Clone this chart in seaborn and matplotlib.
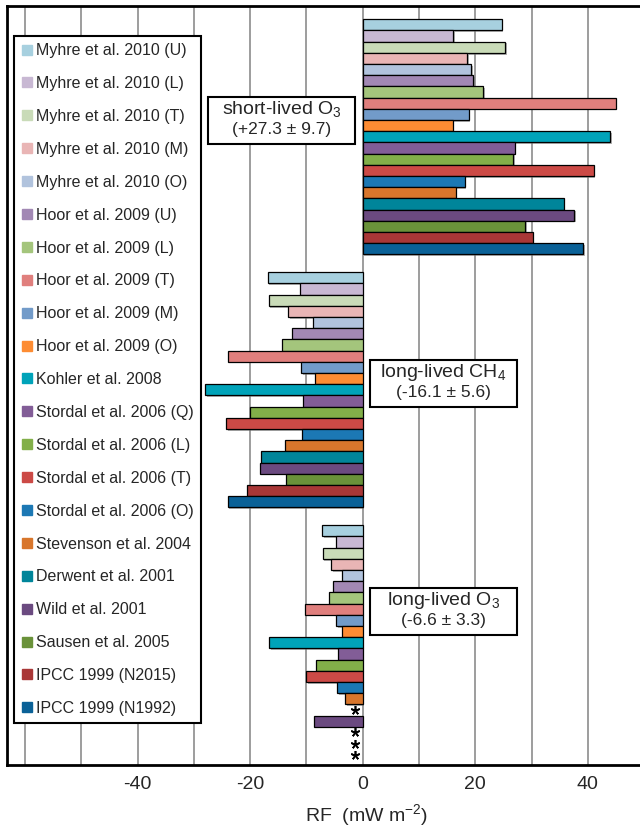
import numpy as np
import pandas as pd
import matplotlib
matplotlib.use('Agg')
import matplotlib.pyplot as plt
import matplotlib.patheffects as pe
from matplotlib.lines import Line2D
from matplotlib.patches import Rectangle
import seaborn as sns

# studies, top to bottom in each group
studies = [
    'Myhre et al. 2010 (U)', 'Myhre et al. 2010 (L)', 'Myhre et al. 2010 (T)',
    'Myhre et al. 2010 (M)', 'Myhre et al. 2010 (O)',
    'Hoor et al. 2009 (U)', 'Hoor et al. 2009 (L)', 'Hoor et al. 2009 (T)',
    'Hoor et al. 2009 (M)', 'Hoor et al. 2009 (O)',
    'Kohler et al. 2008',
    'Stordal et al. 2006 (Q)', 'Stordal et al. 2006 (L)', 'Stordal et al. 2006 (T)',
    'Stordal et al. 2006 (O)',
    'Stevenson et al. 2004', 'Derwent et al. 2001', 'Wild et al. 2001',
    'Sausen et al. 2005', 'IPCC 1999 (N2015)', 'IPCC 1999 (N1992)',
]
colors = [
    '#a7d0df', '#c8b8d3', '#c9dbb8', '#e9b5b5', '#b1c3dd',
    '#a288b4', '#a4c57c', '#e07f7d', '#729bc9', '#fd8c33',
    '#00a3b9',
    '#825d97', '#82af49', '#cc4a46', '#1c78b4',
    '#d8762c', '#00859a', '#6b4a80', '#6a923a', '#a93737', '#0a6197',
]
terms = ['short-lived O3', 'long-lived CH4', 'long-lived O3']

# RF in mW m-2 (None = not given, marked with a star)
short_o3 = [24.7, 16.1, 25.3, 18.5, 19.3, 19.6, 21.4, 44.9, 18.8, 16.0, 44.0,
            27.0, 26.7, 41.0, 18.1, 16.5, 35.7, 37.5, 28.8, 30.2, 39.2]
long_ch4 = [-16.9, -11.2, -16.7, -13.2, -8.8, -12.6, -14.4, -24.0, -10.9, -8.5, -28.0,
            -10.7, -20.1, -24.3, -10.8, -13.8, -18.1, -18.3, -13.7, -20.5, -24.0]
long_o3 = [-7.2, -4.7, -7.1, -5.6, -3.7, -5.3, -6.0, -10.2, -4.7, -3.6, -16.6,
           -4.4, -8.3, -10.0, -4.5, -3.1, None, -8.6, None, None, None]

box_titles = [r'short-lived O$_3$', r'long-lived CH$_4$', r'long-lived O$_3$']
box_values = ['(+27.3 ± 9.7)', '(-16.1 ± 5.6)', '(-6.6 ± 3.3)']

rows = []
for term, vals in zip(terms, [short_o3, long_ch4, long_o3]):
    for s, v in zip(studies, vals):
        rows.append({'term': term, 'study': s, 'rf': v})
df = pd.DataFrame(rows)
plot_df = df.dropna(subset=['rf'])

sns.set_style('white')
plt.rcParams['font.family'] = ['Liberation Sans', 'DejaVu Sans']
plt.rcParams['mathtext.fontset'] = 'custom'
plt.rcParams['mathtext.rm'] = 'Liberation Sans'
plt.rcParams['mathtext.it'] = 'Liberation Sans:italic'
plt.rcParams['axes.unicode_minus'] = False

W, H = 640, 830
fig = plt.figure(figsize=(W / 100, H / 100), dpi=100)
ax = fig.add_axes([7 / W, 1 - 765 / H, (W - 7) / W, 759 / H])

bar_width = 0.929
sns.barplot(data=plot_df, x='rf', y='term', hue='study', hue_order=studies,
            order=terms, palette=colors, saturation=1, width=bar_width,
            edgecolor='black', linewidth=0.9, orient='h', legend=False,
            errorbar=None, ax=ax, zorder=3)

for p in ax.patches:
    p.set_path_effects([pe.SimplePatchShadow(offset=(1.2, -1.2), shadow_rgbFace=(0.45, 0.45, 0.45), alpha=0.55),
                        pe.Normal()])

# stars for missing values
n = len(studies)
for j, term in enumerate(terms):
    sub = df[df['term'] == term]
    for i, v in enumerate(sub['rf']):
        if pd.isna(v):
            yy = j - bar_width / 2 + bar_width / n * (i + 0.5)
            ax.plot([-1.3], [yy], marker=(5, 2, 0), ms=6.5, mew=1.2, color='black', zorder=4)

ax.set_xlim(-63.2, 49.25)
ax.set_ylim(2.483, -0.517)
ax.set_xticks([-40, -20, 0, 20, 40])
ax.set_xticks(np.arange(-60, 50, 10), minor=True)
ax.grid(which='both', axis='x', color='#8c8c8c', lw=1.2, zorder=0)
ax.set_axisbelow(True)
ax.tick_params(axis='x', which='both', length=0, labelsize=14, pad=8)
ax.tick_params(axis='y', left=False, labelleft=False)
ax.set_ylabel('')

for side in ['left', 'bottom', 'top']:
    ax.spines[side].set_color('black')
    ax.spines[side].set_linewidth(2)
ax.spines['right'].set_visible(False)

ax.set_xlabel(r'RF  (mW m$^{-2}$)', fontsize=14, va='baseline')
ax.xaxis.set_label_coords(367 / W, 1 - 821 / H, transform=fig.transFigure)

handles = [Line2D([], [], marker='s', ls='', color=c, markersize=6.5) for c in colors]
leg = ax.legend(handles, studies, loc='upper left', bbox_to_anchor=(14 / W, 1 - 36 / H),
                bbox_transform=fig.transFigure, fontsize=11.5, frameon=True, fancybox=False,
                framealpha=1, edgecolor='black', handlelength=0.7, handletextpad=0.25,
                borderpad=0.45, labelspacing=1.12, borderaxespad=0)
leg.get_frame().set_linewidth(1.5)
leg.set_zorder(6)

# annotation boxes (pixel layout)
boxes = [(208, 97), (370, 360), (370, 588)]
for (bx, by), t1, t2 in zip(boxes, box_titles, box_values):
    fig.add_artist(Rectangle((bx / W, 1 - (by + 47) / H), 147 / W, 47 / H,
                             transform=fig.transFigure, fc='white', ec='black', lw=1.5, zorder=7))
    cx = (bx + 73.5) / W
    fig.text(cx, 1 - (by + 17) / H, t1, ha='center', va='baseline', fontsize=14, zorder=8)
    fig.text(cx, 1 - (by + 37) / H, t2, ha='center', va='baseline', fontsize=12.5, zorder=8)

fig.savefig('out.png', dpi=100)
